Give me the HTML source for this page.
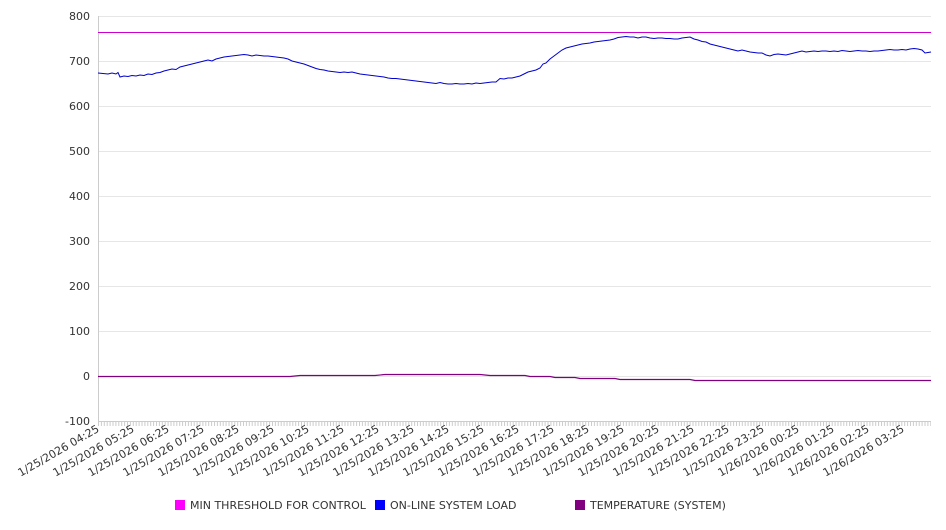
<!DOCTYPE html>
<html><head><style>body{margin:0;background:#fff;font-family:"DejaVu Sans","Liberation Sans",sans-serif}</style></head>
<body>
<svg width="946" height="526" xmlns="http://www.w3.org/2000/svg" font-family="DejaVu Sans, Liberation Sans, sans-serif">
<defs>
<pattern id="tk" x="98" y="0" width="2.9" height="6" patternUnits="userSpaceOnUse"><line x1="0.5" x2="0.5" y1="0" y2="6" stroke="#ccc" stroke-width="1"/></pattern>
</defs>
<g stroke="#e6e6e6" stroke-width="1">
<line x1="98" x2="931" y1="16.5" y2="16.5"/><line x1="98" x2="931" y1="61.5" y2="61.5"/><line x1="98" x2="931" y1="106.5" y2="106.5"/><line x1="98" x2="931" y1="151.5" y2="151.5"/><line x1="98" x2="931" y1="196.5" y2="196.5"/><line x1="98" x2="931" y1="241.5" y2="241.5"/><line x1="98" x2="931" y1="286.5" y2="286.5"/><line x1="98" x2="931" y1="331.5" y2="331.5"/><line x1="98" x2="931" y1="376.5" y2="376.5"/>
</g>
<line x1="98.5" x2="98.5" y1="16" y2="421" stroke="#ccc"/>
<line x1="98" x2="931" y1="421.5" y2="421.5" stroke="#ccc"/>
<rect x="98" y="421" width="833" height="5" fill="url(#tk)"/>
<g font-size="11" fill="#333" text-anchor="end">
<text x="90" y="20">800</text><text x="90" y="65">700</text><text x="90" y="110">600</text><text x="90" y="155">500</text><text x="90" y="200">400</text><text x="90" y="245">300</text><text x="90" y="290">200</text><text x="90" y="335">100</text><text x="90" y="380">0</text><text x="90" y="425">-100</text>
</g>
<g font-size="11" fill="#333" text-anchor="end">
<text transform="translate(100,431) rotate(-30)">1/25/2026 04:25</text>
<text transform="translate(135,431) rotate(-30)">1/25/2026 05:25</text>
<text transform="translate(170,431) rotate(-30)">1/25/2026 06:25</text>
<text transform="translate(205,431) rotate(-30)">1/25/2026 07:25</text>
<text transform="translate(240,431) rotate(-30)">1/25/2026 08:25</text>
<text transform="translate(275,431) rotate(-30)">1/25/2026 09:25</text>
<text transform="translate(310,431) rotate(-30)">1/25/2026 10:25</text>
<text transform="translate(345,431) rotate(-30)">1/25/2026 11:25</text>
<text transform="translate(380,431) rotate(-30)">1/25/2026 12:25</text>
<text transform="translate(415,431) rotate(-30)">1/25/2026 13:25</text>
<text transform="translate(450,431) rotate(-30)">1/25/2026 14:25</text>
<text transform="translate(485,431) rotate(-30)">1/25/2026 15:25</text>
<text transform="translate(520,431) rotate(-30)">1/25/2026 16:25</text>
<text transform="translate(555,431) rotate(-30)">1/25/2026 17:25</text>
<text transform="translate(590,431) rotate(-30)">1/25/2026 18:25</text>
<text transform="translate(625,431) rotate(-30)">1/25/2026 19:25</text>
<text transform="translate(660,431) rotate(-30)">1/25/2026 20:25</text>
<text transform="translate(695,431) rotate(-30)">1/25/2026 21:25</text>
<text transform="translate(730,431) rotate(-30)">1/25/2026 22:25</text>
<text transform="translate(765,431) rotate(-30)">1/25/2026 23:25</text>
<text transform="translate(800,431) rotate(-30)">1/26/2026 00:25</text>
<text transform="translate(835,431) rotate(-30)">1/26/2026 01:25</text>
<text transform="translate(870,431) rotate(-30)">1/26/2026 02:25</text>
<text transform="translate(905,431) rotate(-30)">1/26/2026 03:25</text>
</g>
<line x1="98" x2="931" y1="32.5" y2="32.5" stroke="#cc00cc" stroke-width="1"/>
<polyline fill="none" stroke="#800080" stroke-width="1.2" points="98,376.5 290,376.5 300,375.5 375,375.5 385,374.5 480,374.5 490,375.5 525,375.5 530,376.5 550,376.5 555,377.5 575,377.5 580,378.5 615,378.5 620,379.5 690,379.5 695,380.5 931,380.5"/>
<polyline fill="none" stroke="#0000cc" stroke-width="1" points="98,73 103,73.5 108,74 112,73 116,74 118,72.5 120,77 124,76 128,76.5 132,75.5 136,76 140,75 144,75.5 148,74 152,74.5 156,73 160,72.5 164,71 168,70 172,69 176,69.5 180,67 184,66 188,65 192,64 196,63 200,62 204,61 208,60 212,61 216,59 220,58 224,57 228,56.5 232,56 236,55.5 240,55 244,54.5 248,55 252,56 256,55 260,55.5 264,56 268,56 272,56.5 276,57 280,57.5 284,58 288,59 292,61 296,62 300,63 304,64 308,65.5 312,67 316,68.5 320,69.5 324,70 328,71 332,71.5 336,72 340,72.5 344,72 348,72.5 352,72 356,73 360,74 364,74.5 368,75 372,75.5 376,76 380,76.5 384,77 388,78 392,78.5 396,78.5 400,79 404,79.5 408,80 412,80.5 416,81 420,81.5 424,82 428,82.5 432,83 436,83.5 440,82.5 444,83.5 448,84 452,84 456,83.5 460,84 464,84 468,83.5 472,84 476,83 480,83.5 484,83 488,82.5 492,82 496,82 500,78.5 504,79 508,78 512,78 516,77 520,76 524,74 528,72 532,71 536,70 540,68 543,64 546,63 550,59 554,56 558,53 562,50 566,48 570,47 574,46 578,45 582,44 586,43.5 590,43 594,42 598,41.5 602,41 606,40.5 610,40 614,39 618,37.5 622,37 626,36.5 630,37 634,37 638,38 642,37 646,37 650,38 654,38.5 658,38 662,38 666,38.5 670,38.5 674,39 678,39 682,38 686,37.5 690,37 694,39 698,40 702,41.5 706,42 710,44 714,45 718,46 722,47 726,48 730,49 734,50 738,51 742,50 746,51 750,52 754,52.5 758,53 762,53 766,55 770,56 774,54.5 778,54 782,54.5 786,55 790,54 794,53 798,52 802,51 806,52 810,51.5 814,51 818,51.5 822,51 826,51 830,51.5 834,51 838,51.5 842,50.5 846,51 850,51.5 854,51 858,50.5 862,51 866,51 870,51.5 874,51 878,51 882,50.5 886,50 890,49.5 894,50 898,50 902,49.5 906,50 910,49 914,48.5 918,49 922,50 925,53 928,52.5 931,52"/>
<g font-size="11" fill="#333">
<rect x="175" y="500" width="10" height="10" fill="#ff00ff"/><text x="190" y="509">MIN THRESHOLD FOR CONTROL</text>
<rect x="375" y="500" width="10" height="10" fill="#0000ff"/><text x="390" y="509">ON-LINE SYSTEM LOAD</text>
<rect x="575" y="500" width="10" height="10" fill="#800080"/><text x="590" y="509">TEMPERATURE (SYSTEM)</text>
</g>
</svg>
</body></html>
